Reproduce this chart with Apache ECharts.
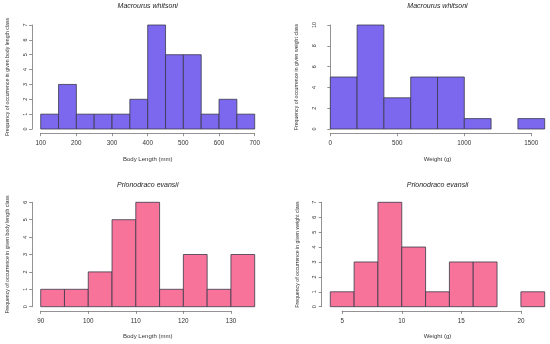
<!DOCTYPE html>
<html>
<head>
<meta charset="utf-8">
<script src="https://cdn.jsdelivr.net/npm/echarts@6/dist/echarts.min.js"></script>
<style>html,body{margin:0;padding:0;background:#fff;}#c{width:550px;height:344px;}</style>
</head>
<body>
<div id="c"></div>
<script>
// Panel data (bin start, bin width, counts)
const p1Title = 'Macrourus whitsoni';
const p1Start = 100, p1Width = 50;
const p1Counts = [1, 3, 1, 1, 1, 2, 7, 5, 5, 1, 2, 1];
const p1XTicks = [100, 700, 100];
const p1YTicks = [0, 7, 1];
const p1XLabel = 'Body Length (mm)';
const p1YLabel = 'Frequency of occurrence in given body length class';

const p2Title = 'Macrourus whitsoni';
const p2Start = 0, p2Width = 200;
const p2Counts = [5, 10, 3, 5, 5, 1, 0, 1];
const p2XTicks = [0, 1500, 500];
const p2YTicks = [0, 10, 2];
const p2XLabel = 'Weight (g)';
const p2YLabel = 'Frequency of occurrence in given weight class';

const p3Title = 'Prionodraco evansii';
const p3Start = 90, p3Width = 5;
const p3Counts = [1, 1, 2, 5, 6, 1, 3, 1, 3];
const p3XTicks = [90, 130, 10];
const p3YTicks = [0, 6, 1];
const p3XLabel = 'Body Length (mm)';
const p3YLabel = 'Frequency of occurrence in given body length class';

const p4Title = 'Prionodraco evansii';
const p4Start = 4, p4Width = 2;
const p4Counts = [1, 3, 7, 4, 1, 3, 3, 0, 1];
const p4XTicks = [5, 20, 5];
const p4YTicks = [0, 7, 1];
const p4XLabel = 'Weight (g)';
const p4YLabel = 'Frequency of occurrence in given weight class';

const purple = '#7b68ee';
const pink = '#f7739a';

const panels = [
  {title: p1Title, start: p1Start, width: p1Width, counts: p1Counts, xt: p1XTicks, yt: p1YTicks, xl: p1XLabel, yl: p1YLabel, color: purple, box: [40.7, 25, 214, 104], yTitleX: 7.3, titleY: 6.5},
  {title: p2Title, start: p2Start, width: p2Width, counts: p2Counts, xt: p2XTicks, yt: p2YTicks, xl: p2XLabel, yl: p2YLabel, color: purple, box: [330.3, 25, 214.4, 104], yTitleX: 297, titleY: 6.5},
  {title: p3Title, start: p3Start, width: p3Width, counts: p3Counts, xt: p3XTicks, yt: p3YTicks, xl: p3XLabel, yl: p3YLabel, color: pink, box: [40.7, 202.3, 214, 104.4], yTitleX: 7.3, titleY: 185.5},
  {title: p4Title, start: p4Start, width: p4Width, counts: p4Counts, xt: p4XTicks, yt: p4YTicks, xl: p4XLabel, yl: p4YLabel, color: pink, box: [330.3, 202.3, 214.4, 104.4], yTitleX: 298, titleY: 185.5}
];

const FONT = 'Liberation Sans, Arial, sans-serif';
const axisCol = '#777';
const textCol = '#333';

const grid = [], xAxis = [], yAxis = [], series = [], graphic = [];

panels.forEach((p) => {
  const [L, T, W, H] = p.box;
  const end = p.start + p.width * p.counts.length;
  const span = end - p.start;
  const yOffPx = 0.04 * H;
  const xExtPx = 0.04 * W;
  const gi = grid.length;
  grid.push({left: L, top: T, width: W, height: H, containLabel: false});
  xAxis.push({
    gridIndex: gi, type: 'value', min: p.start, max: end,
    axisLine: {show: false}, axisTick: {show: false}, axisLabel: {show: false}, splitLine: {show: false},
    name: p.xl, nameLocation: 'middle', nameGap: 27,
    nameTextStyle: {fontFamily: FONT, fontSize: 6, color: textCol}
  });
  yAxis.push({
    gridIndex: gi, type: 'value', min: p.yt[0], max: p.yt[1], interval: p.yt[2],
    offset: xExtPx,
    axisLine: {show: true, lineStyle: {color: axisCol, width: 0.8}},
    axisTick: {show: true, length: 3, lineStyle: {color: axisCol, width: 0.8}},
    axisLabel: {show: true, rotate: 90, margin: 4, fontFamily: FONT, fontSize: 5.5, color: textCol},
    splitLine: {show: false}
  });
  series.push({
    type: 'custom', xAxisIndex: gi, yAxisIndex: gi,
    data: p.counts.map((c, k) => [p.start + k * p.width, p.start + (k + 1) * p.width, c]),
    renderItem: function (params, api) {
      const c = api.value(2);
      if (!c) return null;
      const a = api.coord([api.value(0), c]);
      const b = api.coord([api.value(1), 0]);
      return {
        type: 'rect',
        shape: {x: a[0], y: a[1], width: b[0] - a[0], height: b[1] - a[1]},
        style: {fill: p.color, stroke: '#3a3a4a', lineWidth: 0.8}
      };
    },
    silent: true, animation: false
  });
  const aL = L + (p.xt[0] - p.start) / span * W;
  const aW = (p.xt[1] - p.xt[0]) / span * W;
  const ai = grid.length;
  grid.push({left: aL, top: T, width: aW, height: H, containLabel: false});
  xAxis.push({
    gridIndex: ai, type: 'value', min: p.xt[0], max: p.xt[1], interval: p.xt[2],
    offset: yOffPx,
    axisLine: {show: true, onZero: false, lineStyle: {color: axisCol, width: 0.8}},
    axisTick: {show: true, length: 3, lineStyle: {color: axisCol, width: 0.8}},
    axisLabel: {show: true, margin: 7, fontFamily: FONT, fontSize: 6.3, color: textCol,
      formatter: v => String(v)},
    splitLine: {show: false}
  });
  yAxis.push({gridIndex: ai, type: 'value', show: false, min: 0, max: 1});
  graphic.push({
    type: 'text', x: L + W / 2, y: p.titleY,
    style: {text: p.title, fontFamily: FONT, fontSize: 7, fontStyle: 'italic', fill: '#222', align: 'center', verticalAlign: 'middle'}
  });
  graphic.push({
    type: 'text', x: p.yTitleX, y: T + H / 2, rotation: Math.PI / 2,
    style: {text: p.yl, fontFamily: FONT, fontSize: 5.2, fill: textCol, align: 'center', verticalAlign: 'middle'}
  });
});

const chart = echarts.init(document.getElementById('c'), null, {renderer: 'canvas'});
chart.setOption({animation: false, grid, xAxis, yAxis, series, graphic});
</script>
</body>
</html>
